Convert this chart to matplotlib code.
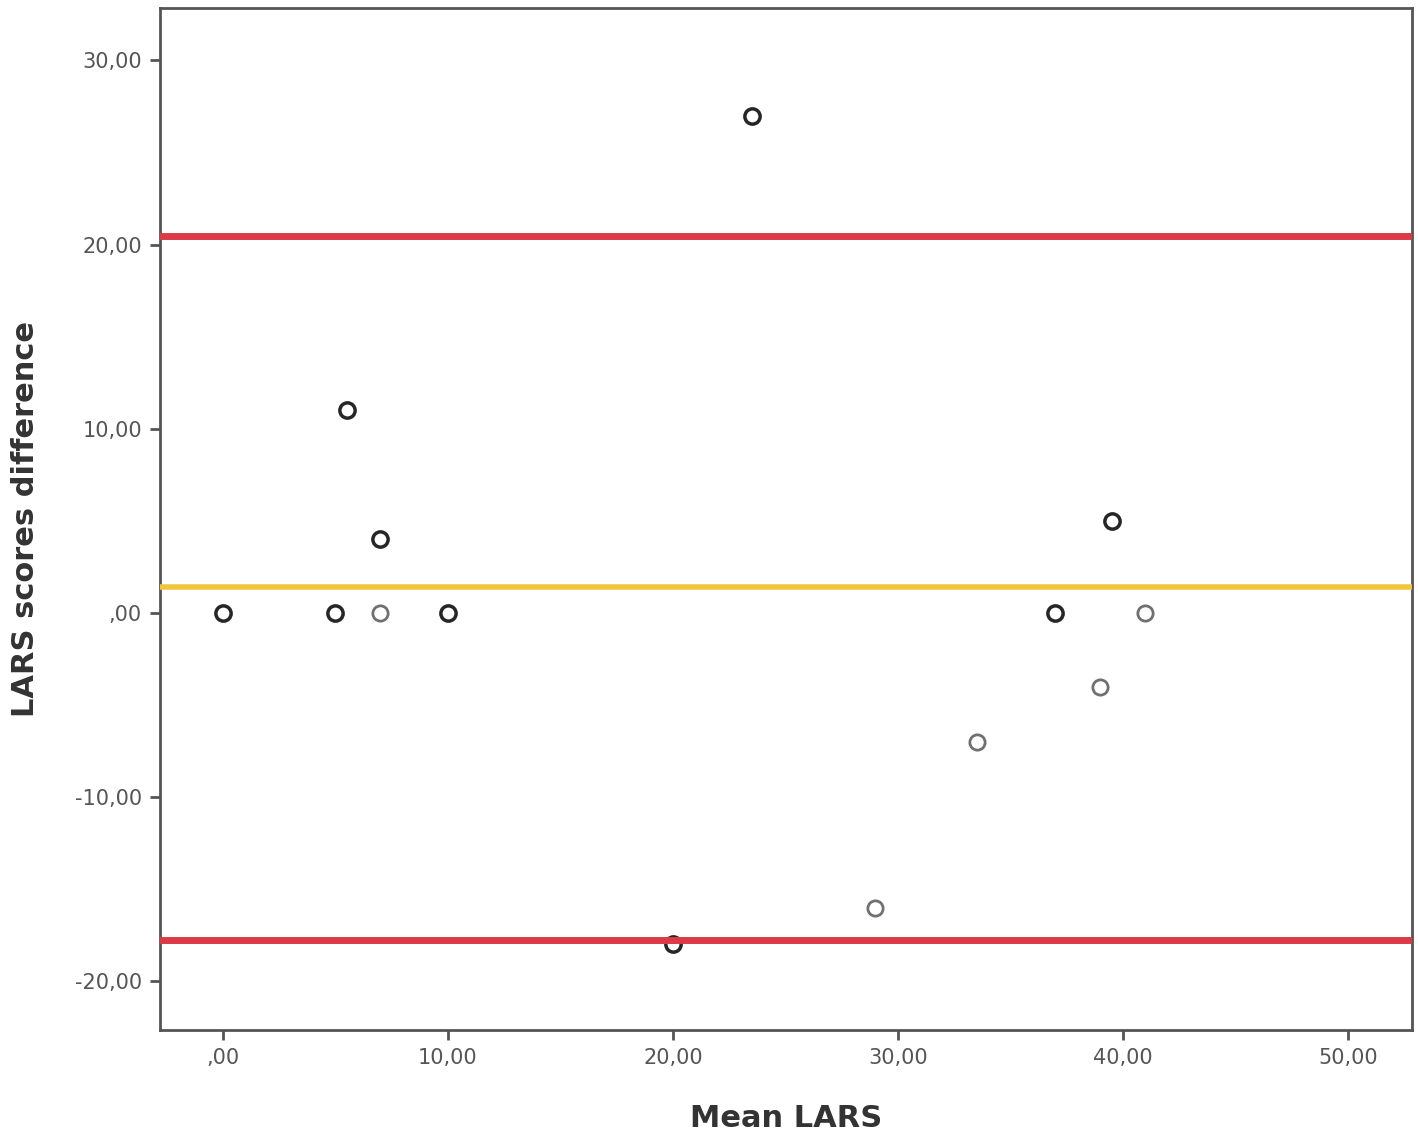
import matplotlib
matplotlib.use('Agg')
import matplotlib.pyplot as plt
from matplotlib.ticker import FuncFormatter

# Bland-Altman data
mean_lars = [0, 5, 5.5, 7, 7, 10, 20, 23.5, 29, 33.5, 37, 39, 39.5, 41]
diff_lars = [0, 0, 11, 4, 0, 0, -18, 27, -16, -7, 0, -4, 5, 0]
# darker rings look like stacked (repeated) cases
dark = [True, True, True, True, False, True, True, True, False, False, True, False, True, False]

upper_loa = 20.45
mean_diff = 1.4
lower_loa = -17.75

x_ticks = [0, 10, 20, 30, 40, 50]
y_ticks = [-20, -10, 0, 10, 20, 30]


def comma_fmt(v, pos):
    s = '%.2f' % v
    s = s.replace('.', ',')
    if s.startswith('0,'):
        s = s[1:]
    elif s.startswith('-0,'):
        s = '-' + s[2:]
    return s


fig = plt.figure(figsize=(14.18, 11.36), dpi=100)
ax = fig.add_axes([0.1128, 0.0933, 0.883, 0.8997])

for x, y, d in zip(mean_lars, diff_lars, dark):
    ax.plot(x, y, 'o', ms=11, mfc='none', mec='#262626' if d else '#707070',
            mew=2.5 if d else 2.0, zorder=2)

ax.axhline(upper_loa, color='#dc3a44', lw=5, zorder=3)
ax.axhline(lower_loa, color='#dc3a44', lw=5, zorder=3)
ax.axhline(mean_diff, color='#f2c63a', lw=4, zorder=3)

ax.set_xlim(-2.8, 52.85)
ax.set_ylim(-22.65, 32.85)
ax.set_xticks(x_ticks)
ax.set_yticks(y_ticks)
ax.xaxis.set_major_formatter(FuncFormatter(comma_fmt))
ax.yaxis.set_major_formatter(FuncFormatter(comma_fmt))

for sp in ax.spines.values():
    sp.set_color('#555555')
    sp.set_linewidth(2)
ax.tick_params(axis='both', direction='out', length=7, width=2, color='#555555',
               labelsize=15, labelcolor='#555555', pad=6)

ax.set_xlabel('Mean LARS', fontsize=22, fontweight='bold', color='#333333', labelpad=26)
ax.set_ylabel('LARS scores difference', fontsize=22, fontweight='bold', color='#333333', labelpad=25)

fig.savefig('out.png', dpi=100)
